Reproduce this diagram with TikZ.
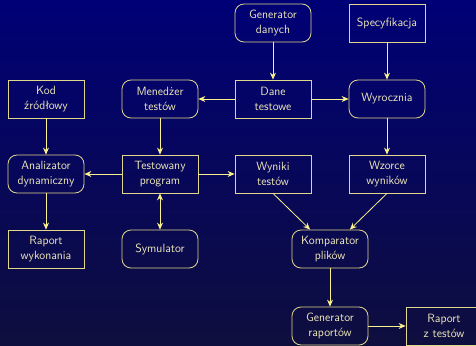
\documentclass[tikz,border=0pt]{standalone}
\usepackage{fontspec}
\usetikzlibrary{arrows.meta}
\definecolor{bgtop}{RGB}{0,0,118}
\definecolor{bgmid}{RGB}{0,0,140}
\definecolor{bgbot}{RGB}{14,14,62}
\definecolor{boxc}{RGB}{225,215,140}
\definecolor{arrc}{RGB}{250,240,140}
\definecolor{txtc}{RGB}{238,232,185}
\tikzset{
  base/.style={draw=boxc, line width=0.8pt, minimum width=76pt, minimum height=38pt,
    text=txtc, align=center, inner sep=2pt,
    font=\sffamily\fontsize{12}{15}\selectfont},
  proc/.style={base, rounded corners=9pt},
  datab/.style={base},
  arr/.style={draw=arrc, line width=0.8pt, -{Stealth[length=7pt,width=6pt]}},
  darr/.style={draw=arrc, line width=0.8pt, {Stealth[length=7pt,width=6pt]}-{Stealth[length=7pt,width=6pt]}},
}
\begin{document}
\begin{tikzpicture}[x=1pt,y=-1pt]
\useasboundingbox (0,0) rectangle (476,345);
\shade[top color=bgtop, middle color=bgmid, bottom color=bgbot] (0,0) rectangle (476,345);
\node[proc]  (gen)  at (273,23) {Generator\\danych};
\node[datab] (spec) at (387,23) {Specyfikacja};
\node[datab] (kod)  at (46,99)  {Kod\\źródłowy};
\node[proc]  (men)  at (160,99) {Menedżer\\testów};
\node[datab] (dane) at (273,99) {Dane\\testowe};
\node[proc]  (wyr)  at (387,99) {Wyrocznia};
\node[proc]  (ana)  at (46,174) {Analizator\\dynamiczny};
\node[datab] (prog) at (160,174) {Testowany\\program};
\node[datab] (wyn)  at (273,174) {Wyniki\\testów};
\node[datab] (wzo)  at (387,174) {Wzorce\\wyników};
\node[datab] (rap)  at (46,249) {Raport\\wykonania};
\node[proc]  (sym)  at (160,249) {Symulator};
\node[proc]  (komp) at (330,249) {Komparator\\plików};
\node[proc]  (genr) at (330,326) {Generator\\raportów};
\node[datab] (rapt) at (444,326) {Raport\\z testów};
\draw[arr] (gen) -- (dane);
\draw[arr] (spec) -- (wyr);
\draw[arr] (dane) -- (men);
\draw[arr] (dane) -- (wyr);
\draw[arr] (kod) -- (ana);
\draw[arr] (men) -- (prog);
\draw[arr] (wyr) -- (wzo);
\draw[arr] (prog) -- (ana);
\draw[arr] (prog) -- (wyn);
\draw[darr] (prog) -- (sym);
\draw[arr] (ana) -- (rap);
\draw[arr] (wyn.south) -- (komp);
\draw[arr] (wzo.south) -- (komp);
\draw[arr] (komp) -- (genr);
\draw[arr] (genr) -- (rapt);
\end{tikzpicture}
\end{document}
